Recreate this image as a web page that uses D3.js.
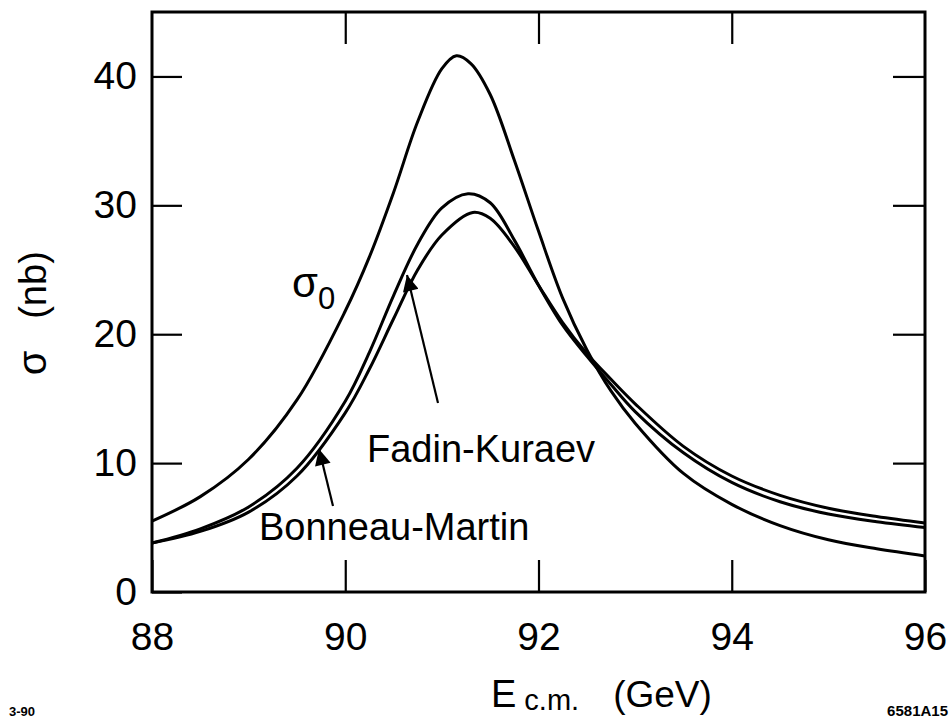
<!DOCTYPE html>
<html>
<head>
<meta charset="utf-8">
<script src="https://cdn.jsdelivr.net/npm/d3@7"></script>
<style>
  body { margin: 0; background: #fff; }
  text { font-family: "Liberation Sans", Arial, Helvetica, sans-serif; fill: #000; }
</style>
</head>
<body>
<div class="chart"></div>
<script>
// energies (GeV) and cross sections (nb)
var sigma0E = [88.0, 88.5, 89.0, 89.5, 90.0, 90.25, 90.5, 90.75, 91.0, 91.15, 91.3, 91.5, 91.75, 92.0, 92.25, 92.5, 92.75, 93.0, 93.5, 94.0, 94.5, 95.0, 95.5, 96.0];
var sigma0V = [5.5, 7.4, 10.3, 14.9, 21.8, 26.0, 31.0, 36.5, 40.6, 41.6, 41.0, 38.6, 33.5, 28.0, 22.8, 18.8, 15.6, 13.1, 9.2, 6.8, 5.15, 4.05, 3.35, 2.8];

var fadinE = [88.0, 88.5, 89.0, 89.5, 90.0, 90.25, 90.5, 90.75, 91.0, 91.27, 91.5, 91.75, 92.0, 92.25, 92.5, 92.75, 93.0, 93.5, 94.0, 94.5, 95.0, 95.5, 96.0];
var fadinV = [3.8, 4.9, 6.6, 9.6, 14.8, 18.6, 23.0, 27.0, 29.8, 30.9, 30.2, 27.3, 23.8, 20.7, 18.3, 16.1, 14.0, 10.8, 8.5, 7.0, 6.05, 5.45, 5.0];

var bonneauE = [88.0, 88.5, 89.0, 89.5, 90.0, 90.25, 90.5, 90.75, 91.0, 91.32, 91.5, 91.75, 92.0, 92.25, 92.5, 92.75, 93.0, 93.5, 94.0, 94.5, 95.0, 95.5, 96.0];
var bonneauV = [3.8, 4.7, 6.2, 9.0, 13.9, 17.3, 21.2, 25.0, 27.7, 29.45, 29.0, 26.8, 23.8, 20.9, 18.5, 16.5, 14.6, 11.3, 9.0, 7.5, 6.5, 5.85, 5.35];

var xTicks = [88, 90, 92, 94, 96];
var yTicks = [0, 10, 20, 30, 40];

var svgWidth = 952;
var svgHeight = 719;

var svg = d3.select(".chart")
  .append("svg")
  .attr("width", svgWidth)
  .attr("height", svgHeight);

var x = d3.scaleLinear().domain([88, 96]).range([152, 925]);
var y = d3.scaleLinear().domain([0, 45]).range([592, 12]);

// axes with ticks pointing inward
var bottomAxis = d3.axisBottom(x).tickValues(xTicks).tickSize(-32).tickPadding(30).tickFormat(d3.format("d"));
var topAxis = d3.axisTop(x).tickValues(xTicks.slice(1, -1)).tickSize(-32).tickFormat("");
var leftAxis = d3.axisLeft(y).tickValues(yTicks).tickSize(-30).tickPadding(15).tickFormat(d3.format("d"));
var rightAxis = d3.axisRight(y).tickValues(yTicks.slice(1)).tickSize(-32).tickFormat("");

function styleAxis(g) {
  g.select(".domain").remove();
  g.selectAll("line").attr("stroke", "#000").attr("stroke-width", 2.2);
  g.selectAll("text").style("font-size", "39px").attr("fill", "#000");
}

svg.append("g").attr("transform", "translate(0," + y(0) + ")").call(bottomAxis).call(styleAxis);
svg.append("g").attr("transform", "translate(0," + y(45) + ")").call(topAxis).call(styleAxis);
svg.append("g").attr("transform", "translate(" + x(88) + ",0)").call(leftAxis).call(styleAxis);
svg.append("g").attr("transform", "translate(" + x(96) + ",0)").call(rightAxis).call(styleAxis);

// frame
svg.append("rect")
  .attr("x", x(88))
  .attr("y", y(45))
  .attr("width", x(96) - x(88))
  .attr("height", y(0) - y(45))
  .attr("fill", "none")
  .attr("stroke", "#000")
  .attr("stroke-width", 3);

// curves
var line = d3.line()
  .x(d => x(d[0]))
  .y(d => y(d[1]))
  .curve(d3.curveCatmullRom.alpha(0.5));

function pairs(es, vs) {
  return es.map(function (e, i) { return [e, vs[i]]; });
}

[pairs(sigma0E, sigma0V), pairs(fadinE, fadinV), pairs(bonneauE, bonneauV)].forEach(function (pts) {
  svg.append("path")
    .datum(pts)
    .attr("d", line)
    .attr("fill", "none")
    .attr("stroke", "#000")
    .attr("stroke-width", 3)
    .attr("stroke-linejoin", "round");
});

// arrow marker
svg.append("defs").append("marker")
  .attr("id", "head")
  .attr("viewBox", "0 0 10 10")
  .attr("refX", 10)
  .attr("refY", 5)
  .attr("markerUnits", "userSpaceOnUse")
  .attr("markerWidth", 26)
  .attr("markerHeight", 16)
  .attr("orient", "auto")
  .append("path")
  .attr("d", "M0,0 L10,5 L0,10 Z")
  .attr("fill", "#000");

function arrow(x1, y1, x2, y2) {
  svg.append("line")
    .attr("x1", x1).attr("y1", y1)
    .attr("x2", x2).attr("y2", y2)
    .attr("stroke", "#000")
    .attr("stroke-width", 2.2)
    .attr("marker-end", "url(#head)");
}

// curve labels
var s0 = svg.append("text")
  .attr("x", 292)
  .attr("y", 297)
  .style("font-size", "42px");
s0.append("tspan").text("σ");
s0.append("tspan").attr("dy", 12).style("font-size", "31px").text("0");

svg.append("text")
  .attr("x", 367)
  .attr("y", 462)
  .style("font-size", "38px")
  .text("Fadin-Kuraev");
arrow(438, 403, 407, 275);

svg.append("text")
  .attr("x", 259)
  .attr("y", 540)
  .style("font-size", "38px")
  .text("Bonneau-Martin");
arrow(333, 506, 319, 449);

// axis titles
var xt = svg.append("text")
  .attr("x", 491)
  .attr("y", 707)
  .style("font-size", "38px");
xt.append("tspan").text("E");
xt.append("tspan").attr("dx", 8).attr("dy", 3).style("font-size", "29px").text("c.m.");
xt.append("tspan").attr("dx", 34).attr("dy", -3).style("font-size", "37px").text("(GeV)");

svg.append("text")
  .attr("transform", "translate(46,285) rotate(-90)")
  .attr("text-anchor", "middle")
  .style("font-size", "38px")
  .text("(nb)");

svg.append("text")
  .attr("transform", "translate(46,363) rotate(-90)")
  .attr("text-anchor", "middle")
  .style("font-size", "40px")
  .text("σ");

// figure codes
svg.append("text")
  .attr("x", 9)
  .attr("y", 716)
  .style("font-size", "13px")
  .style("font-weight", "bold")
  .text("3-90");

svg.append("text")
  .attr("x", 948)
  .attr("y", 716)
  .attr("text-anchor", "end")
  .style("font-size", "15px")
  .style("font-weight", "bold")
  .text("6581A15");
</script>
</body>
</html>
